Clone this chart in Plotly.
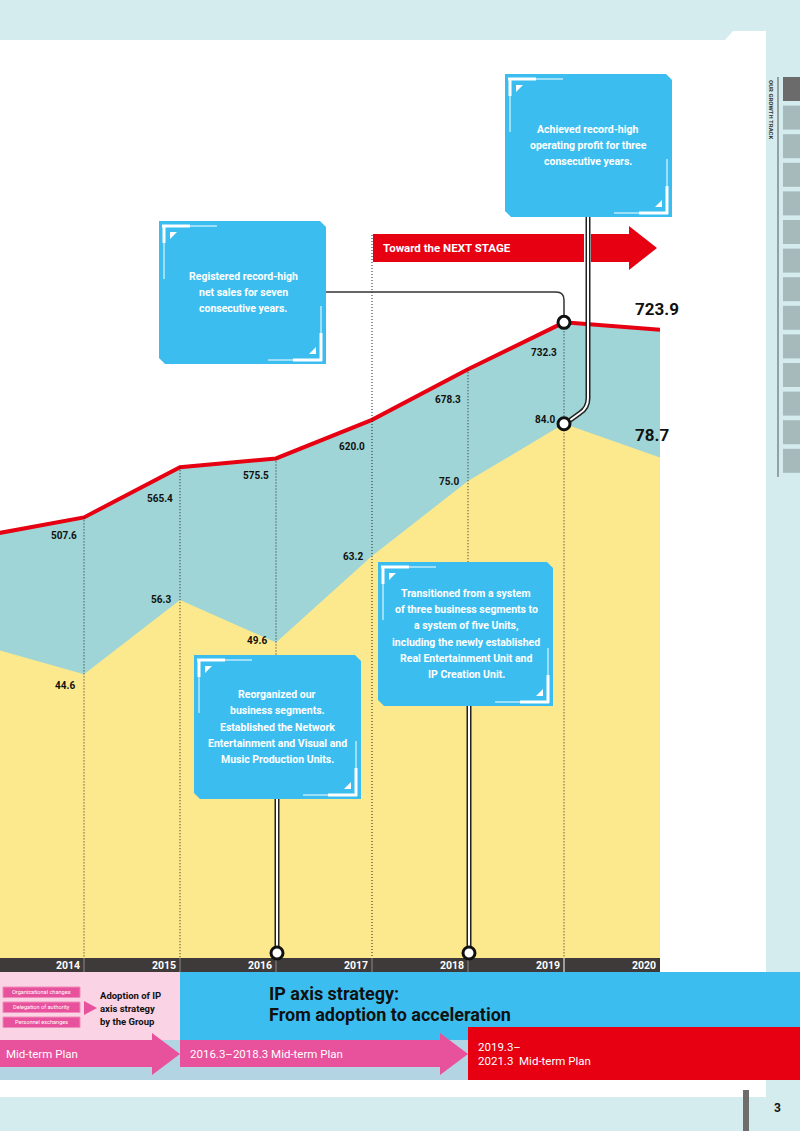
import plotly.graph_objects as go

# ---------------- data ----------------
years = [2013, 2014, 2015, 2016, 2017, 2018, 2019, 2020]
net_sales = [487.2, 507.6, 565.4, 575.5, 620.0, 678.3, 732.3, 723.9]
op_profit = [48.9, 44.6, 56.3, 49.6, 63.2, 75.0, 84.0, 78.7]
year_labels = ["2014", "2015", "2016", "2017", "2018", "2019", "2020"]

# ---------------- style ----------------
W, H = 800, 1131
FONT = "Roboto, 'Noto Sans', sans-serif"
TEAL = "#9fd5d6"
YELLOW = "#fde98d"
RED = "#e60012"
BLUE = "#3bbeef"
PINK = "#e8519b"
PINK_BG = "#fad3e4"
PAGE = "#d5ecef"
BAND_BLUE = "#b3d4e3"
DARK = "#3e3a39"
DOT = dict(color="#222", width=1, dash="1px,2px")

def X(px):
    return px / W

def Y(py):
    return 1 - py / H

def P(pts, close=True):
    s = "M " + " L ".join(f"{X(x):.5f},{Y(y):.5f}" for x, y in pts)
    return s + (" Z" if close else "")

shapes = []
annotations = []

def rect(x0, y0, x1, y1, color, layer="above"):
    shapes.append(dict(type="rect", xref="paper", yref="paper", x0=X(x0), x1=X(x1),
                       y0=Y(y1), y1=Y(y0), fillcolor=color, line=dict(width=0), layer=layer))

def poly(pts, color, layer="above"):
    shapes.append(dict(type="path", xref="paper", yref="paper", path=P(pts),
                       fillcolor=color, line=dict(width=0), layer=layer))

def seg(x0, y0, x1, y1, color, width, dash="solid", layer="above"):
    shapes.append(dict(type="line", xref="paper", yref="paper", x0=X(x0), x1=X(x1),
                       y0=Y(y0), y1=Y(y1), line=dict(color=color, width=width, dash=dash), layer=layer))

def ann(text, x, y, size, color="#111", xanchor="center", bold=True, angle=0):
    annotations.append(dict(text=(f"<b>{text}</b>" if bold else text), x=X(x), y=Y(y),
                            xref="paper", yref="paper", xanchor=xanchor, yanchor="middle",
                            showarrow=False, textangle=angle,
                            font=dict(family=FONT, size=size, color=color)))

# ---------------- background ----------------
poly([(0, 40), (725, 40), (733, 31), (766, 31), (766, 972), (0, 972)], "white", layer="below")
rect(0, 1080, 766, 1097, "white", layer="below")

# sidebar
seg(778, 77, 778, 477, "#555555", 1)
for i in range(14):
    y0 = 77 + i * 28.6
    rect(783, y0, 800, y0 + 24, "#6b6b6b" if i == 0 else "#a6b9bb")
ann("OUR GROWTH TRACK", 771, 110, 6, "#333", bold=True, angle=90)

# ---------------- traces ----------------
fig = go.Figure()
fig.add_trace(go.Scatter(x=years, y=net_sales, mode="lines", fill="tozeroy",
                         fillcolor=TEAL, line=dict(width=0), yaxis="y", hoverinfo="skip"))
fig.add_trace(go.Scatter(x=years, y=net_sales, mode="lines",
                         line=dict(color=RED, width=4), yaxis="y", hoverinfo="skip"))
fig.add_trace(go.Scatter(x=years, y=op_profit, mode="lines", fill="tozeroy",
                         fillcolor=YELLOW, line=dict(width=0), yaxis="y2", hoverinfo="skip"))

# ---------------- dotted year lines ----------------
for yr, v in zip(years[1:-1], net_sales[1:-1]):
    if yr == 2017:
        shapes.append(dict(type="line", xref="x", yref="paper", x0=yr, x1=yr,
                           y0=Y(235), y1=Y(958), line=DOT))
    else:
        shapes.append(dict(type="line", xref="x", yref="y", x0=yr, x1=yr, y0=v, y1=0, line=DOT))

# ---------------- year band ----------------
rect(0, 958, 660, 972, DARK)
for yr in years[1:-1]:
    shapes.append(dict(type="line", xref="x", yref="paper", x0=yr, x1=yr, y0=Y(958), y1=Y(972),
                       line=dict(color="#ffffff" if yr == 2019 else "#8c8c8c", width=1)))
for yr, lab in zip(years[1:], year_labels):
    annotations.append(dict(text=f"<b>{lab}</b>", x=yr, y=Y(965.5), xref="x", yref="paper",
                            xanchor="right", yanchor="middle", xshift=-2, showarrow=False,
                            font=dict(family=FONT, size=10.5, color="white")))

# ---------------- value labels ----------------
sales_yshift = [0, -18, -31, -17, -27, -30, -30]
profit_yshift = [0, -11, 0, 2, 0, 0, 4]
for i in range(1, len(years) - 1):
    annotations.append(dict(text=f"<b>{net_sales[i]:.1f}</b>", x=years[i], y=net_sales[i],
                            xref="x", yref="y", xanchor="right", yanchor="middle",
                            xshift=-5, yshift=sales_yshift[i], showarrow=False,
                            font=dict(family=FONT, size=10, color="#111")))
    annotations.append(dict(text=f"<b>{op_profit[i]:.1f}</b>", x=years[i], y=op_profit[i],
                            xref="x", yref="y2", xanchor="right", yanchor="middle",
                            xshift=-7, yshift=profit_yshift[i], showarrow=False,
                            font=dict(family=FONT, size=10, color="#111")))
annotations.append(dict(text=f"<b>{net_sales[-1]:.1f}</b>", x=years[-1], y=net_sales[-1],
                        xref="x", yref="y", xanchor="left", yanchor="middle", xshift=-27, yshift=21,
                        showarrow=False, font=dict(family=FONT, size=17, color="#111")))
annotations.append(dict(text=f"<b>{op_profit[-1]:.1f}</b>", x=years[-1], y=op_profit[-1],
                        xref="x", yref="y2", xanchor="left", yanchor="middle", xshift=-27, yshift=22,
                        showarrow=False, font=dict(family=FONT, size=17, color="#111")))

# ---------------- Toward the NEXT STAGE arrow ----------------
rect(373, 234, 584, 262, RED)
poly([(591, 234), (629, 234), (629, 226), (657, 248), (629, 270), (629, 262), (591, 262)], RED)
ann("Toward the NEXT STAGE", 381, 248, 11.5, "white", xanchor="left")

# ---------------- connectors ----------------
# net sales callout -> 2019 sales point
shapes.append(dict(type="path", xref="paper", yref="paper",
                   path=(f"M {X(326)},{Y(292)} L {X(556)},{Y(292)} Q {X(564)},{Y(292)} {X(564)},{Y(300)} "
                         f"L {X(564)},{Y(316)}"),
                   line=dict(color="#333", width=1.5)))
# op profit callout -> 2019 profit point (double line)
p2 = (f"M {X(588)},{Y(217)} L {X(588)},{Y(398)} Q {X(588)},{Y(408)} {X(580)},{Y(413)} "
      f"L {X(569)},{Y(421)}")
shapes.append(dict(type="path", xref="paper", yref="paper", path=p2, line=dict(color="#222", width=5)))
shapes.append(dict(type="path", xref="paper", yref="paper", path=p2, line=dict(color="white", width=2)))
for cx, ytop in [(277, 799), (469, 706)]:
    seg(cx, ytop, cx, 947, "#222", 5)
    seg(cx, ytop, cx, 947, "white", 2)

# circles
i19 = years.index(2019)
for yref, v in [("y", net_sales[i19]), ("y2", op_profit[i19])]:
    shapes.append(dict(type="circle", xref="x", yref=yref, xsizemode="pixel", ysizemode="pixel",
                       xanchor=2019, yanchor=v, x0=-6, x1=6, y0=-6, y1=6,
                       fillcolor="white", line=dict(color="#111", width=3)))
for cx in [277, 469]:
    shapes.append(dict(type="circle", xref="paper", yref="paper", x0=X(cx - 6), x1=X(cx + 6),
                       y0=Y(959), y1=Y(947), fillcolor="white", line=dict(color="#111", width=3)))

# ---------------- callout boxes ----------------
callouts = [
    dict(box=(159, 221, 326, 364), cx=243,
         lines=["Registered record-high", "net sales for seven", "consecutive years."]),
    dict(box=(505, 74, 672, 217), cx=588,
         lines=["Achieved record-high", "operating profit for three", "consecutive years."]),
    dict(box=(194, 655, 361, 799), cx=277,
         lines=["Reorganized our", "business segments.", "Established the Network",
                "Entertainment and Visual and", "Music Production Units."]),
    dict(box=(378, 562, 553, 706), cx=466,
         lines=["Transitioned from a system", "of three business segments to",
                "a system of five Units,", "including the newly established",
                "Real Entertainment Unit and", "IP Creation Unit."]),
]
for c in callouts:
    x0, y0, x1, y1 = c["box"]
    poly([(x0, y0), (x1 - 6, y0), (x1, y0 + 6), (x1, y1), (x0 + 6, y1), (x0, y1 - 6)], BLUE)
    # top-left bracket
    seg(x0 + 3, y0 + 5, x0 + 31, y0 + 5, "white", 3)
    seg(x0 + 31, y0 + 5, x0 + 58, y0 + 5, "white", 1)
    seg(x0 + 5, y0 + 4, x0 + 5, y0 + 22, "white", 3)
    seg(x0 + 5, y0 + 22, x0 + 5, y0 + 58, "white", 1)
    poly([(x0 + 11, y0 + 11), (x0 + 18, y0 + 11), (x0 + 11, y0 + 18)], "white")
    # bottom-right bracket
    seg(x1 - 5, y1 - 31, x1 - 5, y1 - 3, "white", 3)
    seg(x1 - 5, y1 - 58, x1 - 5, y1 - 31, "white", 1)
    seg(x1 - 33, y1 - 4, x1 - 4, y1 - 4, "white", 3)
    seg(x1 - 58, y1 - 4, x1 - 33, y1 - 4, "white", 1)
    poly([(x1 - 10, y1 - 10), (x1 - 10, y1 - 17), (x1 - 17, y1 - 10)], "white")
    n = len(c["lines"])
    cy = (y0 + y1) / 2
    for k, line in enumerate(c["lines"]):
        ann(line, c["cx"], cy + (k - (n - 1) / 2) * 16.2, 10.5, "white")

# ---------------- bottom bands ----------------
rect(0, 1040, 800, 1080, BAND_BLUE)
rect(0, 972, 180, 1040, PINK_BG)
rect(180, 972, 800, 1040, BLUE)
rect(468, 1027, 800, 1080, RED)
poly([(0, 1040), (152, 1040), (152, 1033), (180, 1054), (152, 1075), (152, 1067), (0, 1067)], PINK)
poly([(180, 1040), (440, 1040), (440, 1033), (468, 1054), (440, 1075), (440, 1067), (180, 1067)], PINK)

for k, t in enumerate(["Organizational changes", "Delegation of authority", "Personnel exchanges"]):
    yb = 987 + k * 15
    shapes.append(dict(type="rect", xref="paper", yref="paper", x0=X(3), x1=X(80), y0=Y(yb + 10.5),
                       y1=Y(yb), fillcolor=PINK, line=dict(color="#f08cbd", width=1)))
    ann(t, 41.5, yb + 5.3, 5.6, "white", bold=False)
poly([(84, 1001), (97, 1008), (84, 1015)], PINK)
for k, t in enumerate(["Adoption of IP", "axis strategy", "by the Group"]):
    ann(t, 98, 996 + k * 12.5, 9.5, "#111", xanchor="left")

ann("IP axis strategy:", 267, 993, 18, "#111", xanchor="left")
ann("From adoption to acceleration", 267, 1014, 18, "#111", xanchor="left")
ann("Mid-term Plan", 4, 1054, 11.5, "white", xanchor="left", bold=False)
ann("2016.3–2018.3 Mid-term Plan", 188, 1054, 11.5, "white", xanchor="left", bold=False)
ann("2019.3–", 476, 1047, 11.5, "white", xanchor="left", bold=False)
ann("2021.3  Mid-term Plan", 476, 1061, 11.5, "white", xanchor="left", bold=False)

# page number
rect(743, 1090, 749, 1131, "#6d6d6d")
ann("3", 777, 1108, 12, "#111")

# ---------------- layout ----------------
y_bottom = Y(958)
y_top = Y(40)
plot_h = 958 - 40
fig.update_layout(
    width=W, height=H,
    margin=dict(l=0, r=0, t=0, b=0, pad=0),
    paper_bgcolor=PAGE, plot_bgcolor="rgba(0,0,0,0)",
    showlegend=False,
    xaxis=dict(domain=[0, X(660)], range=[2013.125, 2020], visible=False, fixedrange=True),
    yaxis=dict(domain=[y_bottom, y_top], range=[0, plot_h / 0.868], visible=False, fixedrange=True),
    yaxis2=dict(domain=[y_bottom, y_top], range=[0, plot_h / 6.36], overlaying="y",
                visible=False, fixedrange=True),
    shapes=shapes,
    annotations=annotations,
)
fig.write_html("out.html")
